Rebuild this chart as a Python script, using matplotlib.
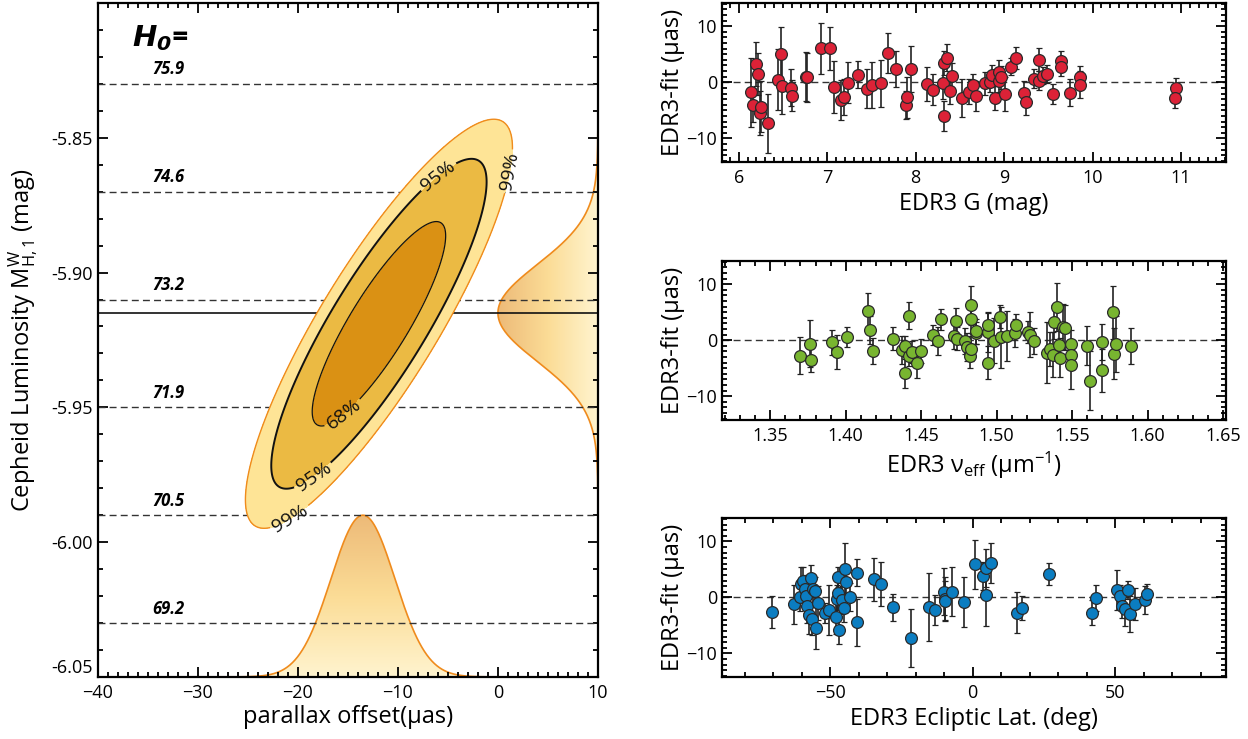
import numpy as np
import matplotlib
matplotlib.use("Agg")
import matplotlib.pyplot as plt
from matplotlib.patches import Polygon
from matplotlib.ticker import MultipleLocator, FixedLocator, FormatStrFormatter
from matplotlib.colors import LinearSegmentedColormap

plt.rcParams['font.family'] = ['Open Sans', 'DejaVu Sans']
plt.rcParams['mathtext.fontset'] = 'custom'
plt.rcParams['mathtext.rm'] = 'Open Sans'
plt.rcParams['mathtext.it'] = 'Open Sans:italic'
plt.rcParams['mathtext.bf'] = 'Open Sans:bold'
plt.rcParams['mathtext.bfit'] = 'Liberation Sans Narrow:italic:bold'

NARROW = ['Liberation Sans Narrow', 'Open Sans', 'DejaVu Sans']

# ---------------- data: left panel ----------------
h0_values = ['75.9', '74.6', '73.2', '71.9', '70.5', '69.2']
h0_mag = [-5.83, -5.87, -5.91, -5.95, -5.99, -6.03]
best_mag = -5.915
# 2D likelihood (ellipse) parameters
ell_center = (-11.9, -5.919)
ell_sigma = (4.4, 0.025)
ell_rho = 0.86
conf_levels = [2.30, 5.99, 9.21]
conf_names = ['68%', '95%', '99%']
# marginal distributions
xmarg_mean, xmarg_sigma, xmarg_height = -13.5, 3.2, 0.06
ymarg_mean, ymarg_sigma, ymarg_height = -5.915, 0.018, 10.0

# ---------------- data: right panels ----------------
g_mag = [6.134, 6.165, 6.191, 6.212, 6.238, 6.247, 6.334, 6.442, 6.481, 6.485,
         6.594, 6.598, 6.763, 6.776, 6.932, 7.027, 7.079, 7.161, 7.187, 7.231,
         7.347, 7.451, 7.503, 7.612, 7.690, 7.781, 7.889, 7.902, 7.945, 8.123,
         8.192, 8.314, 8.318, 8.318, 8.357, 8.392, 8.413, 8.526, 8.600, 8.647,
         8.678, 8.782, 8.842, 8.860, 8.899, 8.942, 8.942, 8.959, 9.007, 9.076,
         9.133, 9.224, 9.245, 9.341, 9.393, 9.397, 9.440, 9.479, 9.557, 9.640,
         9.640, 9.744, 9.852, 9.856, 10.939, 10.931]
g_res = [-1.79, -4.05, 3.27, 1.49, -5.54, -4.35, -7.32, 0.48, 5.06, -0.60,
         -1.01, -2.38, 1.01, 0.89, 6.07, 6.07, -0.83, -3.10, -2.68, -0.06,
         1.37, -1.13, -0.54, -0.18, 5.24, 2.38, -4.05, -2.68, 2.44, -0.30,
         -1.31, -0.06, 3.45, -5.95, 4.40, -1.49, 1.07, -2.86, -1.67, -0.54,
         -2.38, -0.18, 0.06, 1.37, -2.80, 1.90, 0.30, 0.89, -2.08, 2.80,
         4.35, -1.90, -3.57, 0.65, 4.05, 0.30, 1.19, 1.55, -2.08, 3.87,
         2.80, -1.85, 0.89, -0.42, -1.01, -2.80]
g_err = [6.2, 3.1, 3.9, 3.7, 3.9, 4.5, 5.3, 5.5, 4.8, 5.0,
         3.3, 2.8, 4.4, 4.4, 4.5, 3.8, 4.6, 3.6, 3.2, 3.6,
         2.4, 3.5, 4.1, 4.2, 3.5, 3.2, 2.5, 3.7, 4.1, 3.1,
         2.8, 3.0, 2.1, 2.7, 2.4, 2.4, 2.3, 3.4, 2.2, 2.0,
         2.7, 2.0, 1.8, 1.8, 2.1, 2.1, 2.0, 2.0, 3.1, 1.5,
         1.9, 2.1, 2.2, 1.7, 2.0, 1.7, 1.5, 1.6, 1.8, 1.7,
         1.7, 2.4, 2.0, 2.4, 1.7, 1.8]

nu_eff = [1.370, 1.376, 1.377, 1.391, 1.394, 1.401, 1.415, 1.416, 1.418, 1.431,
          1.437, 1.439, 1.439, 1.442, 1.442, 1.444, 1.447, 1.450, 1.458, 1.461,
          1.463, 1.472, 1.473, 1.474, 1.479, 1.480, 1.482, 1.483, 1.483, 1.483,
          1.486, 1.486, 1.494, 1.494, 1.494, 1.498, 1.502, 1.503, 1.507, 1.512,
          1.513, 1.521, 1.522, 1.525, 1.533, 1.535, 1.537, 1.538, 1.540, 1.541,
          1.542, 1.544, 1.545, 1.549, 1.549, 1.549, 1.560, 1.562, 1.570, 1.570,
          1.577, 1.578, 1.579, 1.589]
nu_res = [-2.8, -0.6, -3.5, -0.4, -2.1, 0.6, 5.2, 1.9, -1.9, 0.3,
          -1.8, -5.9, -1.0, -2.8, 4.4, -2.1, -4.0, -1.9, 0.9, -0.1,
          3.7, 0.7, 3.4, 0.3, -0.1, -1.2, -2.8, 6.2, 3.8, -1.5,
          1.3, 1.6, 1.4, 2.8, -4.0, -0.1, 4.2, 0.5, 0.8, 1.3,
          2.8, 1.5, 1.0, -0.2, -2.2, -1.6, -2.6, 3.2, 6.0, -0.9,
          -3.1, 2.4, 2.2, -0.6, -2.6, -4.4, -1.0, -7.2, -0.3, -5.4,
          5.0, -2.4, -0.6, -1.0]
nu_err = [3.3, 4.2, 2.2, 2.3, 3.0, 1.8, 3.3, 2.5, 2.3, 2.0,
          2.5, 2.6, 1.8, 1.8, 2.4, 2.0, 2.7, 2.1, 1.8, 2.5,
          1.8, 2.2, 2.4, 2.0, 2.3, 2.5, 2.2, 3.5, 2.6, 2.3,
          2.0, 2.2, 3.5, 2.2, 3.0, 4.0, 2.0, 5.5, 4.5, 2.5,
          1.8, 2.0, 4.0, 2.3, 5.5, 3.0, 4.0, 3.0, 4.3, 3.0,
          3.5, 4.0, 4.0, 2.5, 2.5, 4.3, 3.5, 5.2, 3.2, 3.8,
          4.7, 4.6, 5.0, 3.2]

ecl_lat = [-70.6, -62.7, -60.6, -60.2, -59.6, -58.9, -58.6, -58.0, -57.5, -56.6,
           -56.3, -55.9, -55.3, -54.9, -54.4, -51.8, -50.4, -48.0, -47.7, -47.4,
           -47.4, -47.0, -45.8, -45.1, -44.7, -44.3, -42.9, -40.7, -40.6, -34.6,
           -32.2, -27.8, -21.6, -15.4, -13.1, -10.2, -9.7, -9.6, -7.1, -3.0,
           0.8, 3.5, 4.7, 4.7, 6.6, 15.5, 17.5, 26.8, 41.9, 43.4,
           50.7, 51.9, 52.6, 53.4, 54.4, 55.4, 56.9, 60.4, 61.3]
ecl_res = [-2.6, -1.2, 0.0, 2.4, 2.9, 1.5, 0.3, -1.5, -3.1, 3.5,
           -3.8, 1.5, 1.1, -5.5, -1.0, -2.8, -2.3, -3.5, -0.2, 3.7,
           0.8, -5.9, -0.4, -1.9, 5.0, 2.8, 0.0, -4.4, 4.4, 3.2,
           2.4, -1.8, -7.2, -1.7, -2.2, 1.0, -0.3, -0.6, 1.0, -0.8,
           5.9, 3.9, 5.2, 0.4, 6.1, -2.7, -1.9, 4.2, -2.7, -0.1,
           1.3, 0.2, -1.6, -2.1, 1.4, -2.9, -1.2, -0.5, 0.6]
ecl_err = [2.8, 3.5, 2.5, 3.0, 2.5, 2.5, 3.0, 3.0, 3.5, 2.3,
           3.0, 2.5, 2.5, 3.8, 3.0, 1.8, 4.5, 3.0, 2.5, 1.8,
           3.0, 2.5, 2.5, 2.5, 4.7, 3.0, 2.5, 4.2, 2.4, 3.8,
           4.0, 2.4, 5.2, 6.0, 2.7, 4.2, 4.0, 3.5, 4.4, 4.5,
           4.4, 2.5, 3.4, 5.5, 3.6, 3.7, 2.2, 2.0, 2.2, 2.3,
           3.6, 2.0, 2.0, 3.0, 1.6, 3.2, 2.8, 2.5, 1.8]

right_panels = [
    (g_mag, g_res, g_err, '#DC2237', 'EDR3 G (mag)', (5.81, 11.51), 1.0, 0.1),
    (nu_eff, nu_res, nu_err, '#78B530', 'EDR3 ν$_{\\rm eff}$ (μm$^{-1}$)', (1.318, 1.652), 0.05, 0.01),
    (ecl_lat, ecl_res, ecl_err, '#0B7DC1', 'EDR3 Ecliptic Lat. (deg)', (-88, 89), 50, 10),
]

# ---------------- figure ----------------
fig = plt.figure(figsize=(12.48, 7.39), dpi=100)

ORANGE = '#EF8B1D'
ax = fig.add_axes([0.0785, 0.084, 0.4006, 0.912])
xlim = (-40, 10)
ylim = (-6.05, -5.80)

# marginal along x (bottom)
xs = np.linspace(xlim[0], xlim[1], 600)
ys = ylim[0] + xmarg_height * np.exp(-(xs - xmarg_mean) ** 2 / (2 * xmarg_sigma ** 2))
verts = np.column_stack([np.r_[xs, xs[::-1]], np.r_[ys, np.full_like(xs, ylim[0])]])
poly = Polygon(verts, closed=True, facecolor='none', edgecolor='none', zorder=1)
ax.add_patch(poly)
cm_v = LinearSegmentedColormap.from_list('gv', ['#FFF4CF', '#FBDC96', '#EDBA78'])
grad = np.linspace(0, 1, 256).reshape(-1, 1)
im = ax.imshow(grad, cmap=cm_v, origin='lower', aspect='auto',
               extent=(xlim[0], xlim[1], ylim[0], ylim[0] + xmarg_height), zorder=1)
im.set_clip_path(poly)
ax.plot(xs, ys, color=ORANGE, lw=1.2, zorder=1.5)

# marginal along y (right)
yy = np.linspace(ylim[0], ylim[1], 600)
xx = xlim[1] - ymarg_height * np.exp(-(yy - ymarg_mean) ** 2 / (2 * ymarg_sigma ** 2))
verts2 = np.column_stack([np.r_[xx, np.full_like(yy, xlim[1])], np.r_[yy, yy[::-1]]])
poly2 = Polygon(verts2, closed=True, facecolor='none', edgecolor='none', zorder=1)
ax.add_patch(poly2)
cm_h = LinearSegmentedColormap.from_list('gh', ['#EDBA78', '#FBDC96', '#FFF4CF'])
grad2 = np.linspace(0, 1, 256).reshape(1, -1)
im2 = ax.imshow(grad2, cmap=cm_h, origin='lower', aspect='auto',
                extent=(xlim[1] - ymarg_height, xlim[1], ylim[0], ylim[1]), zorder=1)
im2.set_clip_path(poly2)
ax.plot(xx, yy, color=ORANGE, lw=1.2, zorder=1.5)

# H0 reference lines
for val, m in zip(h0_values, h0_mag):
    ax.axhline(m, color='#333333', lw=1.0, ls=(0, (5, 3)), zorder=2)
    ax.text(-33, m + 0.002, val, ha='center', va='bottom', fontsize=12,
            family=NARROW, style='italic', weight='bold', zorder=2)
ax.axhline(best_mag, color='#111111', lw=1.2, zorder=2)

# 2D confidence ellipses
gx = np.linspace(xlim[0], xlim[1], 500)
gy = np.linspace(ylim[0], ylim[1], 500)
GX, GY = np.meshgrid(gx, gy)
u = (GX - ell_center[0]) / ell_sigma[0]
v = (GY - ell_center[1]) / ell_sigma[1]
D2 = (u ** 2 - 2 * ell_rho * u * v + v ** 2) / (1 - ell_rho ** 2)
ax.contourf(GX, GY, D2, levels=[0] + conf_levels,
            colors=['#DA9114', '#EBBA43', '#FEE496'], zorder=3)
cs = ax.contour(GX, GY, D2, levels=conf_levels,
                colors=['#111111', '#111111', ORANGE], linewidths=[0.9, 1.4, 1.0], zorder=4)
fmt = {lev: name for lev, name in zip(cs.levels, conf_names)}
ax.clabel(cs, fmt=fmt, inline=True, fontsize=14, colors='#111111',
          manual=[(-15.0, -5.9546), (-6.3, -5.8628), (-18.0, -5.978),
                  (1.6, -5.8628), (-20.3, -5.994)], inline_spacing=3)

ax.text(-36.6, -5.813, r'$\mathbfit{H}_{\mathbfit{0}}$=', fontsize=21,
        family=NARROW, weight='bold', style='italic', va='center', ha='left', zorder=5)

ax.set_xlim(*xlim)
ax.set_ylim(*ylim)
ax.xaxis.set_major_locator(MultipleLocator(10))
ax.xaxis.set_minor_locator(MultipleLocator(1))
ax.yaxis.set_major_locator(FixedLocator([-6.05, -6.00, -5.95, -5.90, -5.85]))
ax.yaxis.set_minor_locator(MultipleLocator(0.01))
ax.yaxis.set_major_formatter(FormatStrFormatter('%.2f'))
ax.tick_params(which='both', direction='in', top=True, right=True, width=1.3, labelsize=13)
ax.tick_params(which='major', length=7)
ax.tick_params(which='minor', length=3.5)
ax.tick_params(axis='x', which='major', pad=5)
for lab in ax.get_xticklabels() + ax.get_yticklabels():
    lab.set_family(NARROW)
ax.get_yticklabels()[0].set_verticalalignment('bottom')
for sp in ax.spines.values():
    sp.set_linewidth(1.6)
    sp.set_zorder(6)
ax.set_xlabel('parallax offset(μas)', fontsize=17, labelpad=2)
ax.set_ylabel(r'Cepheid Luminosity $\mathrm{M}^{\mathrm{W}}_{\mathrm{H,1}}$ (mag)', fontsize=17, labelpad=8)

# ---------------- right panels ----------------
rp_bottoms = [0.781, 0.432, 0.084]
for (xv, yv, ev, col, xlab, xl, maj, mnr), b in zip(right_panels, rp_bottoms):
    a = fig.add_axes([0.5785, b, 0.404, 0.2145])
    a.axhline(0, color='#333333', lw=1.0, ls=(0, (5, 3)), zorder=1)
    a.errorbar(xv, yv, yerr=ev, fmt='o', ms=8.5, mfc=col, mec='#2a2a2a', mew=0.9,
               ecolor='#222222', elinewidth=1.2, capsize=2.4, capthick=1.3, zorder=3)
    a.set_xlim(*xl)
    a.set_ylim(-14.2, 14.1)
    a.xaxis.set_major_locator(MultipleLocator(maj))
    a.xaxis.set_minor_locator(MultipleLocator(mnr))
    a.yaxis.set_major_locator(MultipleLocator(10))
    a.yaxis.set_minor_locator(MultipleLocator(1))
    if maj == 0.05:
        a.xaxis.set_major_formatter(FormatStrFormatter('%.2f'))
    a.tick_params(which='both', direction='in', top=True, right=True, width=1.3, labelsize=13)
    a.tick_params(which='major', length=7)
    a.tick_params(which='minor', length=3.5)
    a.tick_params(axis='x', which='major', pad=5)
    for lab in a.get_xticklabels() + a.get_yticklabels():
        lab.set_family(NARROW)
    for sp in a.spines.values():
        sp.set_linewidth(1.6)
    a.set_xlabel(xlab, fontsize=17, labelpad=4)
    a.set_ylabel('EDR3-fit (μas)', fontsize=17, labelpad=1)

fig.savefig('out.png', dpi=100)
